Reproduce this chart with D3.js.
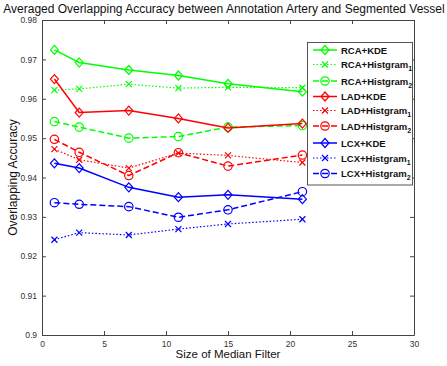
<!DOCTYPE html>
<html>
<head>
<meta charset="utf-8">
<script src="https://cdn.jsdelivr.net/npm/d3@7"></script>
<style>
  body { margin: 0; background: #fff; }
  svg { display: block; font-family: "Liberation Sans", Arial, sans-serif; }
</style>
</head>
<body>
<div id="chart"></div>
<script>
var width = 447,
	height = 366;

// filter sizes
var filterSizes = [1, 3, 7, 11, 15, 21];

// values
var rcaKde   = [0.9724, 0.9692, 0.9673, 0.9659, 0.9638, 0.9618];
var rcaHist1 = [0.9622, 0.9625, 0.9637, 0.9627, 0.9629, 0.9628];
var rcaHist2 = [0.9542, 0.9528, 0.9500, 0.9504, 0.9528, 0.9532];
var ladKde   = [0.9650, 0.9565, 0.9570, 0.9550, 0.9526, 0.9537];
var ladHist1 = [0.9472, 0.9445, 0.9424, 0.9462, 0.9456, 0.9438];
var ladHist2 = [0.9497, 0.9464, 0.9405, 0.9463, 0.9429, 0.9457];
var lcxKde   = [0.9436, 0.9424, 0.9375, 0.9350, 0.9356, 0.9345];
var lcxHist1 = [0.9242, 0.9260, 0.9254, 0.9269, 0.9282, 0.9294];
var lcxHist2 = [0.9336, 0.9332, 0.9326, 0.9299, 0.9318, 0.9364];

var xTicks = [0, 5, 10, 15, 20, 25, 30];
var yTicks = [0.9, 0.91, 0.92, 0.93, 0.94, 0.95, 0.96, 0.97, 0.98];

var series = [
	{ name: 'RCA', sub: '+KDE', idx: '', values: rcaKde, color: '#00ff00', style: 'solid', marker: 'diamond' },
	{ name: 'RCA', sub: '+Histgram', idx: '1', values: rcaHist1, color: '#00ff00', style: 'dotted', marker: 'x' },
	{ name: 'RCA', sub: '+Histgram', idx: '2', values: rcaHist2, color: '#00ff00', style: 'dashed', marker: 'circle' },
	{ name: 'LAD', sub: '+KDE', idx: '', values: ladKde, color: '#ff0000', style: 'solid', marker: 'diamond' },
	{ name: 'LAD', sub: '+Histgram', idx: '1', values: ladHist1, color: '#ff0000', style: 'dotted', marker: 'x' },
	{ name: 'LAD', sub: '+Histgram', idx: '2', values: ladHist2, color: '#ff0000', style: 'dashed', marker: 'circle' },
	{ name: 'LCX', sub: '+KDE', idx: '', values: lcxKde, color: '#0000ff', style: 'solid', marker: 'diamond' },
	{ name: 'LCX', sub: '+Histgram', idx: '1', values: lcxHist1, color: '#0000ff', style: 'dotted', marker: 'x' },
	{ name: 'LCX', sub: '+Histgram', idx: '2', values: lcxHist2, color: '#0000ff', style: 'dashed', marker: 'circle' }
];

var margin = { left: 42, top: 20, right: 33, bottom: 31 };
var plotW = width - margin.left - margin.right,
	plotH = height - margin.top - margin.bottom;

var svg = d3.select('#chart').append('svg')
	.attr('width', width)
	.attr('height', height);

var x = d3.scaleLinear().domain([0, 30]).range([margin.left, margin.left + plotW]);
var y = d3.scaleLinear().domain([0.9, 0.98]).range([margin.top + plotH, margin.top]);

var dashes = { solid: null, dotted: '1.5,2', dashed: '6,3' };

// axes (matlab-like box with inward ticks)
var axisColor = '#444';
var fmt = function(d) { return d === 0.9 ? '0.9' : d3.format('.2f')(d); };

var gx = svg.append('g')
	.attr('transform', 'translate(0,' + (margin.top + plotH) + ')')
	.call(d3.axisBottom(x).tickValues(xTicks).tickSizeInner(-4).tickSizeOuter(0).tickPadding(6));
var gxTop = svg.append('g')
	.attr('transform', 'translate(0,' + margin.top + ')')
	.call(d3.axisTop(x).tickValues(xTicks).tickSizeInner(-4).tickSizeOuter(0).tickFormat(''));
var gy = svg.append('g')
	.attr('transform', 'translate(' + margin.left + ',0)')
	.call(d3.axisLeft(y).tickValues(yTicks).tickFormat(fmt).tickSizeInner(-4).tickSizeOuter(0).tickPadding(5));
var gyRight = svg.append('g')
	.attr('transform', 'translate(' + (margin.left + plotW) + ',0)')
	.call(d3.axisRight(y).tickValues(yTicks).tickSizeInner(-4).tickSizeOuter(0).tickFormat(''));

[gx, gxTop, gy, gyRight].forEach(function(g) {
	g.select('.domain').attr('stroke', axisColor).attr('stroke-width', 1);
	g.selectAll('.tick line').attr('stroke', axisColor);
	g.selectAll('.tick text')
		.attr('fill', '#333')
		.style('font-size', '8.5px')
		.style('font-family', '"Liberation Sans", Arial, sans-serif');
});

// lines
var line = d3.line()
	.x(function(d, i) { return x(filterSizes[i]); })
	.y(function(d) { return y(d); });

function drawMarker(g, type, cx, cy, color) {
	if (type === 'diamond') {
		g.append('path')
			.attr('d', 'M' + cx + ',' + (cy - 4.5) + 'L' + (cx + 4) + ',' + cy + 'L' + cx + ',' + (cy + 4.5) + 'L' + (cx - 4) + ',' + cy + 'Z')
			.attr('fill', 'none').attr('stroke', color).attr('stroke-width', 1.2);
	} else if (type === 'circle') {
		g.append('circle')
			.attr('cx', cx).attr('cy', cy).attr('r', 4.2)
			.attr('fill', 'none').attr('stroke', color).attr('stroke-width', 1.2);
	} else {
		var s = 3;
		g.append('path')
			.attr('d', 'M' + (cx - s) + ',' + (cy - s) + 'L' + (cx + s) + ',' + (cy + s) + 'M' + (cx - s) + ',' + (cy + s) + 'L' + (cx + s) + ',' + (cy - s))
			.attr('fill', 'none').attr('stroke', color).attr('stroke-width', 1.2);
	}
}

var plot = svg.append('g').classed('lines', true);

series.forEach(function(s) {
	plot.append('path')
		.datum(s.values)
		.attr('d', line)
		.attr('fill', 'none')
		.attr('stroke', s.color)
		.attr('stroke-width', s.style === 'dotted' ? 1.2 : 1.5)
		.attr('stroke-dasharray', dashes[s.style]);
	var mg = plot.append('g');
	s.values.forEach(function(v, i) {
		drawMarker(mg, s.marker, x(filterSizes[i]), y(v), s.color);
	});
});

// legend
var lx = 307.5, ly = 42.5, lw = 105, lh = 142.5;
var legend = svg.append('g').classed('legend', true);
legend.append('rect')
	.attr('x', lx).attr('y', ly).attr('width', lw).attr('height', lh)
	.attr('fill', '#fff').attr('stroke', '#555').attr('stroke-width', 1);

var rowY = [50, 64.5, 81, 96.5, 110.5, 126, 143, 158, 173.5];
series.forEach(function(s, i) {
	var ry = rowY[i];
	legend.append('line')
		.attr('x1', 313).attr('x2', 337).attr('y1', ry).attr('y2', ry)
		.attr('stroke', s.color)
		.attr('stroke-width', s.style === 'dotted' ? 1.2 : 1.5)
		.attr('stroke-dasharray', dashes[s.style]);
	drawMarker(legend, s.marker, 325, ry, s.color);
	var t = legend.append('text')
		.attr('x', 341).attr('y', ry + 3.5)
		.style('font-size', '9.5px')
		.style('font-weight', 'bold')
		.attr('fill', '#111');
	t.append('tspan').text(s.name + s.sub);
	if (s.idx) {
		t.append('tspan').attr('dy', 3).style('font-size', '7px').text(s.idx);
	}
});

// title and axis labels
svg.append('text')
	.attr('x', 224).attr('y', 13)
	.attr('text-anchor', 'middle')
	.style('font-size', '12px')
	.attr('fill', '#111')
	.text('Averaged Overlapping Accuracy between Annotation Artery and Segmented Vessel');

svg.append('text')
	.attr('x', 228).attr('y', 358)
	.attr('text-anchor', 'middle')
	.style('font-size', '11.5px')
	.attr('fill', '#111')
	.text('Size of Median Filter');

svg.append('text')
	.attr('transform', 'translate(17,' + (margin.top + plotH / 2) + ') rotate(-90)')
	.attr('text-anchor', 'middle')
	.style('font-size', '12px')
	.attr('fill', '#111')
	.text('Overlapping Accuracy');
</script>
</body>
</html>
